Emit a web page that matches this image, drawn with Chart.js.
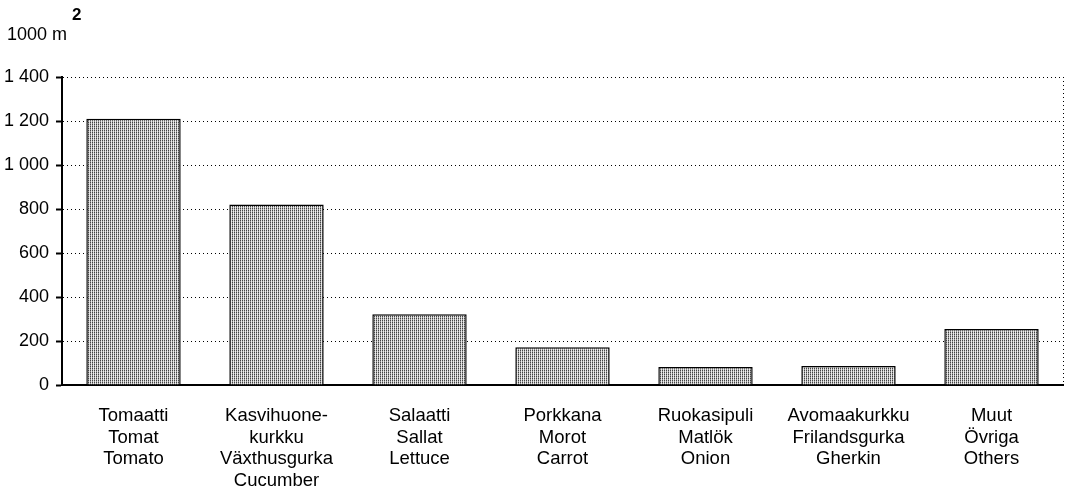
<!DOCTYPE html>
<html>
<head>
<meta charset="utf-8">
<script src="https://cdn.jsdelivr.net/npm/chart.js"></script>
<style>
    body { margin: 0; background: #fff; }
    #wrap { width: 1066px; height: 489px; }
</style>
</head>
<body>
<div id="wrap"><canvas id="ala" width="1066" height="489"></canvas></div>
<script>
// Categories (three languages, one line each)
const kategoriat = [
    ['Tomaatti', 'Tomat', 'Tomato'],
    ['Kasvihuone-', 'kurkku', 'Växthusgurka', 'Cucumber'],
    ['Salaatti', 'Sallat', 'Lettuce'],
    ['Porkkana', 'Morot', 'Carrot'],
    ['Ruokasipuli', 'Matlök', 'Onion'],
    ['Avomaakurkku', 'Frilandsgurka', 'Gherkin'],
    ['Muut', 'Övriga', 'Others']
];
// Area, 1000 m2
const pintaAla = [1210, 820, 322, 172, 82, 86, 254];
const yTicks = [0, 200, 400, 600, 800, 1000, 1200, 1400];

document.addEventListener('DOMContentLoaded', function() {
    const fontti = 'Liberation Sans, Arial, sans-serif';

    // Stipple fill for bars
    const pc = document.createElement('canvas');
    pc.width = 2;
    pc.height = 2;
    const px = pc.getContext('2d');
    px.fillStyle = '#444'; px.fillRect(0, 0, 1, 1);
    px.fillStyle = '#999'; px.fillRect(0, 1, 1, 1);
    px.fillStyle = '#ddd'; px.fillRect(1, 0, 1, 1);
    px.fillStyle = '#eee'; px.fillRect(1, 1, 1, 1);
    const ctx = document.getElementById('ala').getContext('2d');
    const kuvio = ctx.createPattern(pc, 'repeat');

    // Unit label top-left
    const yksikko = {
        id: 'yksikko',
        afterDraw(chart) {
            const c = chart.ctx;
            c.save();
            c.fillStyle = '#000';
            c.font = '18px ' + fontti;
            c.textBaseline = 'middle';
            c.textAlign = 'left';
            c.fillText('1000 m', 7, 35);
            c.font = 'bold 17px ' + fontti;
            c.fillText('2', 72, 15);
            c.restore();
        }
    };

    new Chart(ctx, {
        type: 'bar',
        data: {
            labels: kategoriat,
            datasets: [{
                data: pintaAla,
                backgroundColor: kuvio,
                borderColor: '#000',
                borderWidth: 1.5,
                barPercentage: 0.66,
                categoryPercentage: 1
            }]
        },
        options: {
            responsive: false,
            animation: false,
            devicePixelRatio: 1,
            layout: { padding: { left: 0, right: 3, top: 77, bottom: 0 } },
            plugins: {
                legend: { display: false },
                tooltip: { enabled: false }
            },
            scales: {
                x: {
                    offset: true,
                    afterFit(scale) { scale.height = 104; },
                    border: { display: true, color: '#000', width: 2, dash: [1, 3] },
                    grid: {
                        offset: true,
                        drawTicks: false,
                        // only the right edge line is shown
                        color: c => (c.index === undefined || c.index === kategoriat.length) ? '#000' : 'rgba(0,0,0,0)'
                    },
                    ticks: {
                        color: '#000',
                        font: { family: fontti, size: 18.5, lineHeight: 1.17 },
                        padding: 20,
                        maxRotation: 0,
                        autoSkip: false
                    }
                },
                y: {
                    min: 0,
                    max: 1400,
                    afterFit(scale) { scale.width = 62; },
                    afterBuildTicks(scale) { scale.ticks = yTicks.map(v => ({ value: v })); },
                    border: { display: true, color: '#000', width: 2, dash: [1, 3] },
                    grid: {
                        color: '#000',
                        tickBorderDash: [],
                        tickColor: '#000',
                        tickWidth: 2,
                        tickLength: 6,
                        lineWidth: 1
                    },
                    ticks: {
                        color: '#000',
                        font: { family: fontti, size: 18 },
                        padding: 7,
                        callback: v => String(v).replace(/\B(?=(\d{3})+$)/g, ' ')
                    }
                }
            }
        },
        plugins: [yksikko]
    });
});
</script>
</body>
</html>
